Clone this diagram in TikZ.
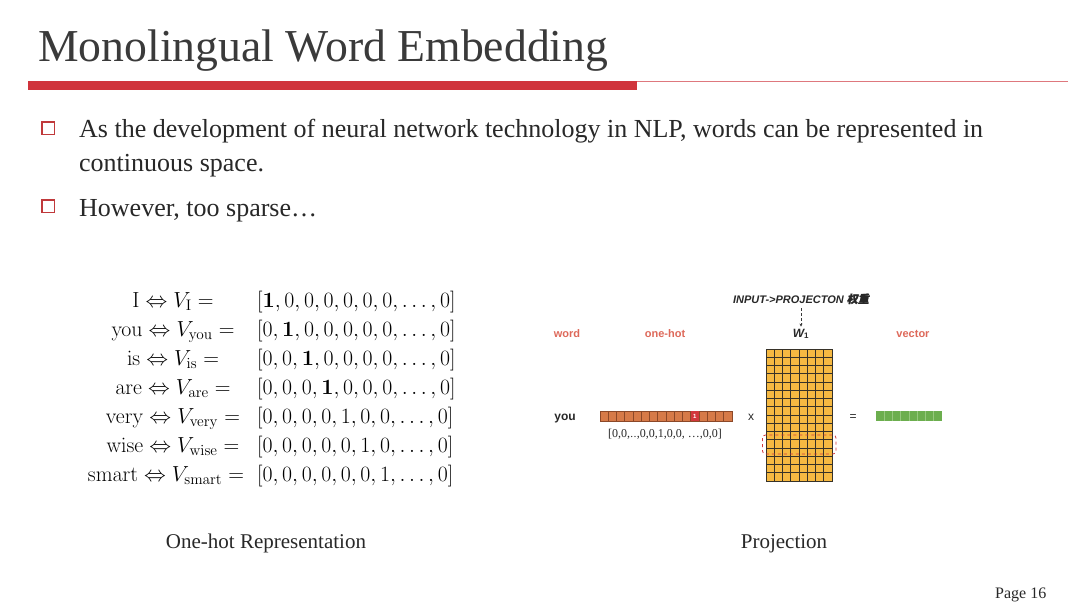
\RequirePackage{fix-cm}
\documentclass[tikz,border=0pt]{standalone}
\usepackage{amsmath}
\usepackage[no-math]{fontspec}
\setmainfont{Liberation Serif}
\setsansfont{Liberation Sans}
\newfontfamily\cjk[FakeSlant=0.2,FakeBold=1.5]{Noto Sans CJK SC}
\newfontfamily\dvs{DejaVu Serif}
\usetikzlibrary{calc,arrows.meta}
\definecolor{titlegray}{RGB}{58,58,58}
\definecolor{bodygray}{RGB}{40,40,40}
\definecolor{barred}{RGB}{208,52,60}
\definecolor{linered}{RGB}{222,120,125}
\definecolor{bulletred}{RGB}{192,57,59}
\definecolor{salmon}{RGB}{222,105,90}
\definecolor{hotfill}{RGB}{214,122,72}
\definecolor{hotline}{RGB}{140,72,40}
\definecolor{onered}{RGB}{210,55,60}
\definecolor{wfill}{RGB}{246,185,66}
\definecolor{wline}{RGB}{55,50,40}
\definecolor{vfill}{RGB}{108,174,78}
\definecolor{vline}{RGB}{150,200,125}
\begin{document}
\begin{tikzpicture}[x=1pt,y=-1pt,
  titletext/.style={anchor=base west,inner sep=0,text=titlegray,font=\fontsize{45.7}{50}\selectfont},
  bodytext/.style={anchor=base west,inner sep=0,text=bodygray,font=\fontsize{26}{30}\selectfont},
  bulletbox/.style={draw=bulletred,line width=1.6pt,minimum width=12.5pt,minimum height=12.5pt,inner sep=0,anchor=north west},
  mathleft/.style={anchor=base,inner sep=0,text=black,font=\fontsize{21.8}{24}\selectfont},
  mathright/.style={anchor=base west,inner sep=0,text=black,font=\fontsize{21.8}{24}\selectfont},
  caption/.style={anchor=base,inner sep=0,text=bodygray,font=\fontsize{21}{25}\selectfont},
  smalllab/.style={anchor=base,inner sep=0,text=salmon,font=\sffamily\bfseries\fontsize{11}{13}\selectfont},
  darklab/.style={anchor=base,inner sep=0,text=bodygray,font=\sffamily\bfseries\fontsize{11}{13}\selectfont},
  cellbar/.style={anchor=north west,inner sep=0,minimum height=10pt,minimum width=132pt},
]
\useasboundingbox (0,0) rectangle (1080,608);
\fill[white] (0,0) rectangle (1080,608);

% title
\node[titletext] (title) at (38,61) {Monolingual Word Embedding};
\fill[barred] (28,81) rectangle (637,90);
\draw[linered,line width=1.2pt] (637,81.6) -- (1068,81.6);

% bullets
\node[bulletbox] (b1) at (41,121) {};
\node[bulletbox] (b2) at (41,199) {};
\node[bodytext] (t1) at (79,137) {As the development of neural network technology in NLP, words can be represented in};
\node[bodytext] (t2) at (79,171) {continuous space.};
\node[bodytext] (t3) at (79,216) {However, too sparse\ldots};

% one-hot representation
\node[mathleft] (l1) at (173,307) {$\mathrm{I}\Leftrightarrow V_{\mathrm{I}} =$};
\node[mathleft] (l2) at (173,336) {$\mathrm{you}\Leftrightarrow V_{\mathrm{you}} =$};
\node[mathleft] (l3) at (173,365) {$\mathrm{is}\Leftrightarrow V_{\mathrm{is}} =$};
\node[mathleft] (l4) at (173,394) {$\mathrm{are}\Leftrightarrow V_{\mathrm{are}} =$};
\node[mathleft] (l5) at (173,423) {$\mathrm{very}\Leftrightarrow V_{\mathrm{very}} =$};
\node[mathleft] (l6) at (173,452) {$\mathrm{wise}\Leftrightarrow V_{\mathrm{wise}} =$};
\node[mathleft] (l7) at (166,481) {$\mathrm{smart}\Leftrightarrow V_{\mathrm{smart}} =$};
\node[mathright] (r1) at (257,307) {$[\mathbf{1},0,0,0,0,0,0,\ldots,0]$};
\node[mathright] (r2) at (257,336) {$[0,\mathbf{1},0,0,0,0,0,\ldots,0]$};
\node[mathright] (r3) at (257,365) {$[0,0,\mathbf{1},0,0,0,0,\ldots,0]$};
\node[mathright] (r4) at (257,394) {$[0,0,0,\mathbf{1},0,0,0,\ldots,0]$};
\node[mathright] (r5) at (257,423) {$[0,0,0,0,1,0,0,\ldots,0]$};
\node[mathright] (r6) at (257,452) {$[0,0,0,0,0,1,0,\ldots,0]$};
\node[mathright] (r7) at (257,481) {$[0,0,0,0,0,0,1,\ldots,0]$};
\node[caption] (c1) at (266,548) {One-hot Representation};

% projection
\node[darklab,font=\sffamily\bfseries\itshape\fontsize{11}{13}\selectfont] (inp) at (801,303) {INPUT-{}>PROJECTON {\cjk 权重}};
\node[smalllab] (wordlab) at (567,337) {word};
\node[smalllab] (ohlab) at (665,337) {one-hot};
\node[darklab,font=\sffamily\bfseries\itshape\fontsize{12}{14}\selectfont] (wlab) at (801,337) {W\textsubscript{\upshape1}};
\node[smalllab] (veclab) at (913,337) {vector};
\draw[densely dashed,titlegray,line width=0.8pt,-{Stealth[length=3pt,width=3pt]}] (inp.south) ++(0,4) -- ($(wlab.north)+(0,-2)$);

\node[darklab,font=\sffamily\bfseries\fontsize{12}{14}\selectfont] (you) at (565,420) {you};

% one-hot bar
\node[cellbar,fill=hotfill,draw=hotline,line width=0.8pt] (oh) at (600,411) {};
\fill[onered] ($(oh.north west)+(11*8.25,0)$) rectangle ($(oh.north west)+(12*8.25,10)$);
\node[inner sep=0,text=white,font=\sffamily\bfseries\fontsize{6}{7}\selectfont] (hot) at ($(oh.north west)+(11.5*8.25,5)$) {1};
\foreach \i in {1,...,15} \draw[hotline,line width=0.8pt] ($(oh.north west)+(\i*8.25,0)$) -- ++(0,10);
\node[anchor=base,inner sep=0,text=bodygray,font=\fontsize{12}{14}\selectfont] (ohtxt) at (665,437) {[0,0,{\dvs\fontsize{10}{12}\selectfont ‥},0,0,1,0,0, …,0,0]};

\node[darklab,font=\sffamily\fontsize{12}{14}\selectfont] (times) at (751,420) {x};

% matrix W1
\node[anchor=north west,inner sep=0,minimum width=66pt,minimum height=132pt,fill=wfill,draw=wline,line width=1pt] (W) at (766,349) {};
\foreach \i in {1,...,7} \draw[wline,line width=1pt] ($(W.north west)+(\i*8.25,0)$) -- ++(0,132);
\foreach \j in {1,...,15} \draw[wline,line width=1pt] ($(W.north west)+(0,\j*8.25)$) -- ++(66,0);
\draw[onered,dashed,line width=0.8pt,rounded corners=3pt] (762.5,435) rectangle (836,454);

\node[darklab,font=\sffamily\fontsize{12}{14}\selectfont] (eq) at (853,420) {=};

% vector
\node[cellbar,minimum width=66pt,fill=vfill] (vec) at (876,411) {};
\foreach \i in {1,...,7} \draw[vline,line width=0.7pt] ($(vec.north west)+(\i*8.25,0)$) -- ++(0,10);

\node[caption] (c2) at (784,548) {Projection};

% page number
\node[anchor=base west,inner sep=0,text=bodygray,font=\fontsize{16}{19}\selectfont] (page) at (995,598) {Page 16};
\end{tikzpicture}
\end{document}
